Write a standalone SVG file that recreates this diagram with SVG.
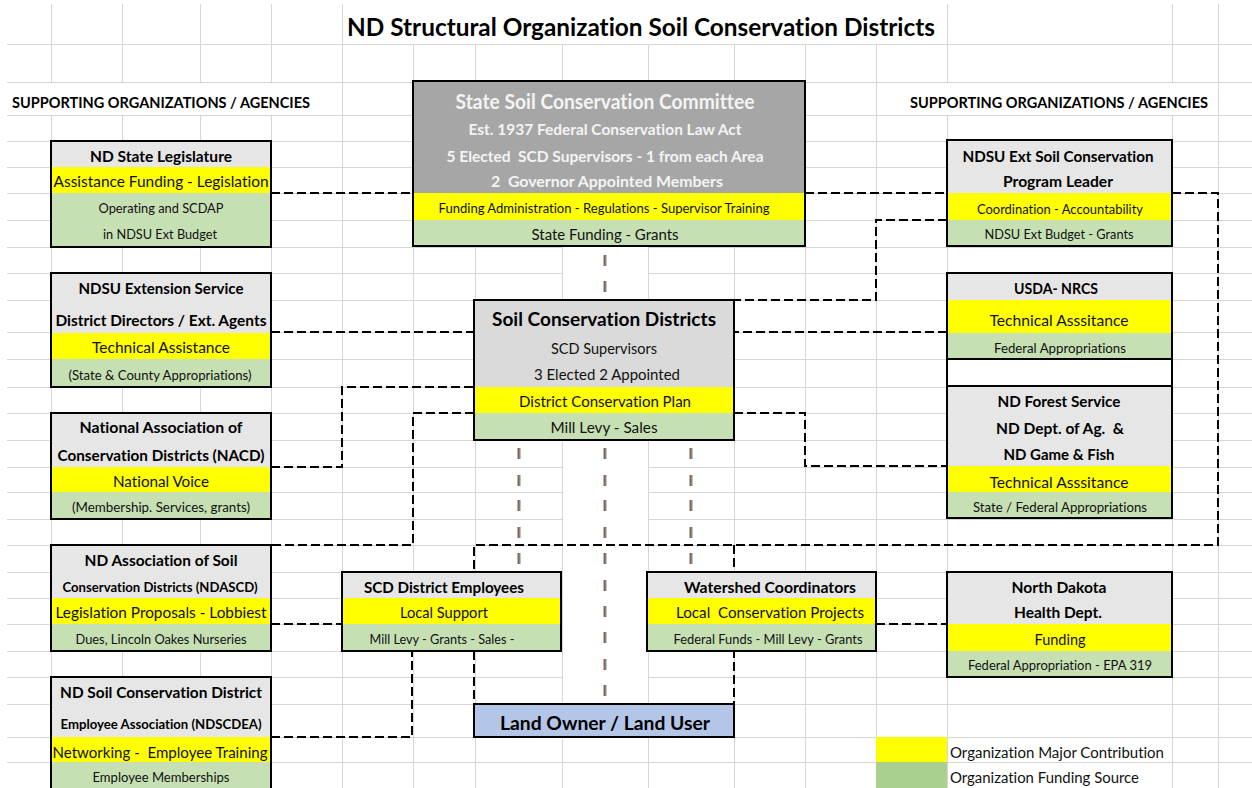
<svg xmlns="http://www.w3.org/2000/svg" width="1252" height="788" viewBox="0 0 1252 788">
<style>
text{font-family:Lato,"Liberation Sans",sans-serif;dominant-baseline:central;text-anchor:middle;font-variant-ligatures:none}
.b{font-weight:700;fill:#000}
.r{font-weight:400;fill:#111}
.w{font-weight:700;fill:#f4f4f4}
.grid{stroke:#d6d6d6;stroke-width:1;fill:none}
.con{stroke:#000;stroke-width:2;fill:none;stroke-dasharray:9 4}
.bx{fill:none;stroke:#000;stroke-width:2}
.hd{fill:#e7e6e6}
.hd2{fill:#dadada}
.ye{fill:#ffff00}
.gr{fill:#c6e0b4}
.or{stroke:#a0581e;stroke-width:1.5}
.bl{stroke:#4f7fae;stroke-width:1.3}
</style>
<rect x="0" y="0" width="1252" height="788" fill="#fff"/>
<g id="grid">
<path class="grid" d="M7,44.5H1252M7,82.5H1252M7,115.5H1252M7,141.5H1252M7,167.5H1252M7,193.5H1252M7,220.5H1252M7,247.5H1252M7,273.5H1252M7,300.5H1252M7,332.5H1252M7,359.5H1252M7,387.5H1252M7,413.5H1252M7,440.5H1252M7,467.5H1252M7,492.5H1252M7,519.5H1252M7,545.5H1252M7,572.5H1252M7,598.5H1252M7,624.5H1252M7,651.5H1252M7,677.5H1252M7,704.5H1252M7,737.5H1252M7,762.5H1252"/>
<path class="grid" d="M51.5,4V788M122.5,4V788M200.5,4V788M271.5,4V788M342.5,4V788M413.5,4V788M475.5,4V788M562.5,4V788M648.5,4V788M734.5,4V788M805.5,4V788M876.5,4V788M947.5,4V788M1172.5,4V788M1218.5,4V788"/>
<rect x="343.2" y="0" width="603.6" height="44" fill="#fff"/>
<rect x="8" y="83.2" width="333.8" height="31.6" fill="#fff"/>
<rect x="877.2" y="83.2" width="340.6" height="31.6" fill="#fff"/>
<rect x="563.2" y="247" width="84.6" height="53" fill="#fff"/>
<rect x="563.2" y="440" width="84.6" height="264" fill="#fff"/>
</g>
<text class="b" x="641" y="26" font-size="24" textLength="588" lengthAdjust="spacingAndGlyphs">ND Structural Organization Soil Conservation Districts</text>
<text class="b" x="161" y="102" font-size="15" textLength="298" lengthAdjust="spacingAndGlyphs">SUPPORTING ORGANIZATIONS / AGENCIES</text>
<text class="b" x="1059" y="102" font-size="15" textLength="298" lengthAdjust="spacingAndGlyphs">SUPPORTING ORGANIZATIONS / AGENCIES</text>
<g id="connectors">
<path class="con" d="M271,193H413"/>
<path class="con" d="M805,193H947"/>
<path class="con" d="M1172,193H1218V545H474V704"/>
<path class="con" d="M734,545V704"/>
<path class="con" d="M947,220H876V300H734"/>
<path class="con" d="M947,332H734"/>
<path class="con" d="M271,332H474"/>
<path class="con" d="M271,467H342V387H474"/>
<path class="con" d="M474,413H413V545H271"/>
<path class="con" d="M734,413H805V466H947"/>
<path class="con" d="M271,624H342"/>
<path class="con" d="M271,737H412V651"/>
<path class="con" d="M876,624H947"/>
<g id="flow-dashes">
<path class="or" d="M604.3,255v11M604.3,281v11M604.3,448v11M604.3,475v11M604.3,500v11M604.3,527v11M604.3,553v11M604.3,580v11M604.3,606v11M604.3,632v11M604.3,659v11M604.3,685v11"/>
<path class="bl" d="M605.8,255v11M605.8,281v11M605.8,448v11M605.8,475v11M605.8,500v11M605.8,527v11M605.8,553v11M605.8,580v11M605.8,606v11M605.8,632v11M605.8,659v11M605.8,685v11"/>
<path class="or" d="M518.3,448v11M518.3,475v11M518.3,500v11M518.3,527v11M518.3,553v11M690.3,448v11M690.3,475v11M690.3,500v11M690.3,527v11M690.3,553v11"/>
<path class="bl" d="M519.8,448v11M519.8,475v11M519.8,500v11M519.8,527v11M519.8,553v11M691.8,448v11M691.8,475v11M691.8,500v11M691.8,527v11M691.8,553v11"/>
</g>
</g>
<g id="nd-state-legislature">
<rect class="hd" x="51" y="141" width="220" height="26"/>
<rect class="ye" x="51" y="167" width="220" height="26"/>
<rect class="gr" x="51" y="193" width="220" height="54"/>
<rect class="bx" x="51" y="141" width="220" height="106"/>
<text class="b" x="161" y="156" font-size="14.5" textLength="142" lengthAdjust="spacingAndGlyphs">ND State Legislature</text>
<text class="r" x="161" y="181" font-size="15" textLength="215" lengthAdjust="spacingAndGlyphs">Assistance Funding - Legislation</text>
<text class="r" x="161" y="208" font-size="13.5" textLength="125" lengthAdjust="spacingAndGlyphs">Operating and SCDAP</text>
<text class="r" x="160" y="234" font-size="13.5" textLength="114" lengthAdjust="spacingAndGlyphs">in NDSU Ext Budget</text>
</g>
<g id="ndsu-extension-service">
<rect class="hd" x="51" y="273" width="220" height="60"/>
<rect class="ye" x="51" y="333" width="220" height="26"/>
<rect class="gr" x="51" y="359" width="220" height="28"/>
<rect class="bx" x="51" y="273" width="220" height="114"/>
<text class="b" x="161" y="288" font-size="14.5" textLength="165" lengthAdjust="spacingAndGlyphs">NDSU Extension Service</text>
<text class="b" x="161" y="320" font-size="14.5" textLength="211" lengthAdjust="spacingAndGlyphs">District Directors / Ext. Agents</text>
<text class="r" x="161" y="347" font-size="15" textLength="138" lengthAdjust="spacingAndGlyphs">Technical Assistance</text>
<text class="r" x="160" y="375" font-size="13" textLength="183" lengthAdjust="spacingAndGlyphs">(State &amp; County Appropriations)</text>
</g>
<g id="nacd">
<rect class="hd" x="51" y="413" width="220" height="54"/>
<rect class="ye" x="51" y="467" width="220" height="25"/>
<rect class="gr" x="51" y="492" width="220" height="27"/>
<rect class="bx" x="51" y="413" width="220" height="106"/>
<text class="b" x="161" y="427" font-size="14.5" textLength="163" lengthAdjust="spacingAndGlyphs">National Association of</text>
<text class="b" x="161" y="455" font-size="14.5" textLength="207" lengthAdjust="spacingAndGlyphs">Conservation Districts (NACD)</text>
<text class="r" x="161" y="481" font-size="15" textLength="96" lengthAdjust="spacingAndGlyphs">National Voice</text>
<text class="r" x="161" y="507" font-size="13" textLength="178" lengthAdjust="spacingAndGlyphs">(Membership. Services, grants)</text>
</g>
<g id="ndascd">
<rect class="hd" x="51" y="545" width="220" height="53"/>
<rect class="ye" x="51" y="598" width="220" height="26"/>
<rect class="gr" x="51" y="624" width="220" height="27"/>
<rect class="bx" x="51" y="545" width="220" height="106"/>
<text class="b" x="161" y="560" font-size="14.5" textLength="153" lengthAdjust="spacingAndGlyphs">ND Association of Soil</text>
<text class="b" x="160" y="587" font-size="13.5" textLength="195" lengthAdjust="spacingAndGlyphs">Conservation Districts (NDASCD)</text>
<text class="r" x="161" y="612" font-size="15" textLength="211" lengthAdjust="spacingAndGlyphs">Legislation Proposals - Lobbiest</text>
<text class="r" x="161" y="639" font-size="13" textLength="171" lengthAdjust="spacingAndGlyphs">Dues, Lincoln Oakes Nurseries</text>
</g>
<g id="ndscdea">
<rect class="hd" x="51" y="677" width="220" height="60"/>
<rect class="ye" x="51" y="737" width="220" height="25"/>
<rect class="gr" x="51" y="762" width="220" height="28"/>
<rect class="bx" x="51" y="677" width="220" height="114"/>
<text class="b" x="161" y="692" font-size="14.5" textLength="202" lengthAdjust="spacingAndGlyphs">ND Soil Conservation District</text>
<text class="b" x="161" y="724" font-size="13.5" textLength="201" lengthAdjust="spacingAndGlyphs">Employee Association (NDSCDEA)</text>
<text class="r" x="160" y="752" font-size="15" textLength="215" lengthAdjust="spacingAndGlyphs" xml:space="preserve">Networking -  Employee Training</text>
<text class="r" x="161" y="777" font-size="13" textLength="137" lengthAdjust="spacingAndGlyphs">Employee Memberships</text>
</g>
<g id="state-soil-conservation-committee">
<rect fill="#a6a6a6" x="413" y="81" width="392" height="112"/>
<rect class="ye" x="413" y="193" width="392" height="27"/>
<rect class="gr" x="413" y="220" width="392" height="26"/>
<rect class="bx" x="413" y="81" width="392" height="165"/>
<text class="w" x="605" y="101" font-size="20" textLength="299" lengthAdjust="spacingAndGlyphs">State Soil Conservation Committee</text>
<text class="w" x="605" y="129" font-size="14.5" textLength="273" lengthAdjust="spacingAndGlyphs">Est. 1937 Federal Conservation Law Act</text>
<text class="w" x="605" y="156" font-size="14.5" textLength="317" lengthAdjust="spacingAndGlyphs" xml:space="preserve">5 Elected  SCD Supervisors - 1 from each Area</text>
<text class="w" x="607" y="181" font-size="14.5" textLength="232" lengthAdjust="spacingAndGlyphs" xml:space="preserve">2  Governor Appointed Members</text>
<text class="r" x="604" y="208" font-size="13.5" textLength="331" lengthAdjust="spacingAndGlyphs">Funding Administration - Regulations - Supervisor Training</text>
<text class="r" x="605" y="234" font-size="14.5" textLength="147" lengthAdjust="spacingAndGlyphs">State Funding - Grants</text>
</g>
<g id="soil-conservation-districts">
<rect class="hd2" x="474" y="300" width="260" height="87"/>
<rect class="ye" x="474" y="387" width="260" height="26"/>
<rect class="gr" x="474" y="413" width="260" height="27"/>
<rect class="bx" x="474" y="300" width="260" height="140"/>
<text class="b" x="604" y="318" font-size="19" textLength="224" lengthAdjust="spacingAndGlyphs">Soil Conservation Districts</text>
<text class="r" x="604" y="348" font-size="14.5" textLength="106" lengthAdjust="spacingAndGlyphs">SCD Supervisors</text>
<text class="r" x="607" y="374" font-size="14.5" textLength="146" lengthAdjust="spacingAndGlyphs">3 Elected 2 Appointed</text>
<text class="r" x="605" y="401" font-size="15" textLength="172" lengthAdjust="spacingAndGlyphs">District Conservation Plan</text>
<text class="r" x="604" y="427" font-size="14.5" textLength="107" lengthAdjust="spacingAndGlyphs">Mill Levy - Sales</text>
</g>
<g id="scd-district-employees">
<rect class="hd" x="342" y="572" width="219" height="26"/>
<rect class="ye" x="342" y="598" width="219" height="26"/>
<rect class="gr" x="342" y="624" width="219" height="27"/>
<rect class="bx" x="342" y="572" width="219" height="79"/>
<text class="b" x="444" y="587" font-size="14.5" textLength="160" lengthAdjust="spacingAndGlyphs">SCD District Employees</text>
<text class="r" x="444" y="612" font-size="15" textLength="88" lengthAdjust="spacingAndGlyphs">Local Support</text>
<text class="r" x="442" y="639" font-size="13" textLength="145" lengthAdjust="spacingAndGlyphs">Mill Levy - Grants - Sales -</text>
</g>
<g id="watershed-coordinators">
<rect class="hd" x="647" y="572" width="229" height="26"/>
<rect class="ye" x="647" y="598" width="229" height="26"/>
<rect class="gr" x="647" y="624" width="229" height="27"/>
<rect class="bx" x="647" y="572" width="229" height="79"/>
<text class="b" x="770" y="587" font-size="14.5" textLength="172" lengthAdjust="spacingAndGlyphs">Watershed Coordinators</text>
<text class="r" x="770" y="612" font-size="15" textLength="188" lengthAdjust="spacingAndGlyphs" xml:space="preserve">Local  Conservation Projects</text>
<text class="r" x="768" y="639" font-size="13" textLength="189" lengthAdjust="spacingAndGlyphs">Federal Funds - Mill Levy - Grants</text>
</g>
<g id="land-owner">
<rect fill="#b4c6e7" x="474" y="704" width="260" height="33"/>
<rect class="bx" x="474" y="704" width="260" height="33"/>
<text class="b" x="605" y="722" font-size="19" textLength="210" lengthAdjust="spacingAndGlyphs">Land Owner / Land User</text>
</g>
<g id="ndsu-ext-soil-conservation">
<rect class="hd" x="947" y="140" width="225" height="53"/>
<rect class="ye" x="947" y="193" width="225" height="27"/>
<rect class="gr" x="947" y="220" width="225" height="26"/>
<rect class="bx" x="947" y="140" width="225" height="106"/>
<text class="b" x="1058" y="156" font-size="14.5" textLength="191" lengthAdjust="spacingAndGlyphs">NDSU Ext Soil Conservation</text>
<text class="b" x="1058" y="181" font-size="14.5" textLength="110" lengthAdjust="spacingAndGlyphs">Program Leader</text>
<text class="r" x="1060" y="208" font-size="14" textLength="166" lengthAdjust="spacingAndGlyphs">Coordination - Accountability</text>
<text class="r" x="1059" y="234" font-size="13" textLength="149" lengthAdjust="spacingAndGlyphs">NDSU Ext Budget - Grants</text>
</g>
<g id="usda-nrcs">
<rect class="hd" x="947" y="273" width="225" height="27"/>
<rect class="ye" x="947" y="300" width="225" height="33"/>
<rect class="gr" x="947" y="333" width="225" height="26"/>
<rect class="bx" x="947" y="273" width="225" height="86"/>
<path d="M947,359V386M1172,359V386" stroke="#000" stroke-width="2"/>
<text class="b" x="1056" y="288" font-size="14.5" textLength="84" lengthAdjust="spacingAndGlyphs">USDA- NRCS</text>
<text class="r" x="1059" y="319" font-size="16" textLength="139" lengthAdjust="spacingAndGlyphs">Technical Asssitance</text>
<text class="r" x="1060" y="348" font-size="13.5" textLength="132" lengthAdjust="spacingAndGlyphs">Federal Appropriations</text>
</g>
<g id="nd-forest-service">
<rect class="hd" x="947" y="386" width="225" height="80"/>
<rect class="ye" x="947" y="466" width="225" height="26"/>
<rect class="gr" x="947" y="492" width="225" height="26"/>
<rect class="bx" x="947" y="386" width="225" height="132"/>
<text class="b" x="1059" y="401" font-size="14.5" textLength="123" lengthAdjust="spacingAndGlyphs">ND Forest Service</text>
<text class="b" x="1060" y="428" font-size="14.5" textLength="128" lengthAdjust="spacingAndGlyphs" xml:space="preserve">ND Dept. of Ag.  &amp;</text>
<text class="b" x="1059" y="454" font-size="14.5" textLength="111" lengthAdjust="spacingAndGlyphs">ND Game &amp; Fish</text>
<text class="r" x="1059" y="481" font-size="16" textLength="139" lengthAdjust="spacingAndGlyphs">Technical Asssitance</text>
<text class="r" x="1060" y="507" font-size="13.5" textLength="174" lengthAdjust="spacingAndGlyphs">State / Federal Appropriations</text>
</g>
<g id="nd-health-dept">
<rect class="hd" x="947" y="572" width="225" height="52"/>
<rect class="ye" x="947" y="624" width="225" height="27"/>
<rect class="gr" x="947" y="651" width="225" height="26"/>
<rect class="bx" x="947" y="572" width="225" height="105"/>
<text class="b" x="1059" y="587" font-size="14.5" textLength="95" lengthAdjust="spacingAndGlyphs">North Dakota</text>
<text class="b" x="1058" y="612" font-size="14.5" textLength="88" lengthAdjust="spacingAndGlyphs">Health Dept.</text>
<text class="r" x="1060" y="639" font-size="15" textLength="51" lengthAdjust="spacingAndGlyphs">Funding</text>
<text class="r" x="1060" y="665" font-size="13.5" textLength="184" lengthAdjust="spacingAndGlyphs">Federal Appropriation - EPA 319</text>
</g>
<g id="legend">
<rect fill="#ffff00" x="876" y="737" width="71" height="25"/>
<rect fill="#a9d08e" x="876" y="762" width="71" height="26"/>
<text class="r" x="950" y="752" font-size="14.5" style="text-anchor:start" textLength="214" lengthAdjust="spacingAndGlyphs">Organization Major Contribution</text>
<text class="r" x="950" y="777" font-size="14.5" style="text-anchor:start" textLength="189" lengthAdjust="spacingAndGlyphs">Organization Funding Source</text>
</g>
</svg>
